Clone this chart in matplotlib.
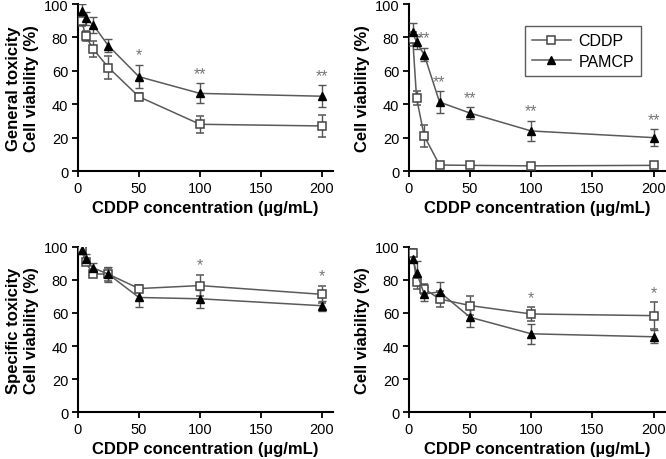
import matplotlib
matplotlib.use("Agg")
import matplotlib.pyplot as plt

plt.rcParams['font.family'] = ['Liberation Sans', 'DejaVu Sans']

conc = [3.125, 6.25, 12.5, 25, 50, 100, 200]

# general toxicity, panel A
gen_a_cddp = [90, 81, 73, 62, 44.5, 28, 27]
gen_a_cddp_err = [3, 3, 5, 7, 2, 5, 6.5]
gen_a_pamcp = [96, 91.5, 87.5, 75, 56.5, 46.5, 44.8]
gen_a_pamcp_err = [4, 4, 5, 4, 7, 6, 6.5]
gen_a_stars = ['', '', '', '', '*', '**', '**']

# general toxicity, panel B
gen_b_cddp = [79, 43.7, 21, 3.6, 3.4, 3.1, 3.4]
gen_b_cddp_err = [4, 4, 6.5, 1, 1, 1, 1]
gen_b_pamcp = [83, 77, 69.7, 41.3, 34.7, 24, 20]
gen_b_pamcp_err = [5.5, 4, 4, 6.5, 3.5, 6, 5]
gen_b_stars = ['', '', '**', '**', '**', '**', '**']

# specific toxicity, panel C
spe_a_cddp = [98.4, 90.8, 83.7, 83.5, 74.8, 76.6, 71.3]
spe_a_cddp_err = [1.5, 2, 2, 4, 2, 6.5, 5]
spe_a_pamcp = [98, 92.8, 87.3, 83.5, 69.4, 68.6, 64.4]
spe_a_pamcp_err = [2, 3, 3, 4.5, 6, 5.5, 3]
spe_a_stars = ['', '', '', '', '', '*', '*']

# specific toxicity, panel D
spe_b_cddp = [96.5, 78.5, 74.7, 68.5, 64.5, 59.4, 58.4]
spe_b_cddp_err = [2, 4, 3, 5, 6, 4, 8]
spe_b_pamcp = [92.6, 84.5, 71.5, 72.8, 57.4, 47.4, 45.6]
spe_b_pamcp_err = [2, 7, 4, 6, 6, 6, 4]
spe_b_stars = ['', '', '', '', '', '*', '*']

line_col = '#5a5a5a'


def draw(ax, cddp, cddp_err, pamcp, pamcp_err, stars, ylabel):
    c1 = ax.errorbar(conc, cddp, yerr=cddp_err, color=line_col, lw=1.1,
                     marker='s', ms=5.5, mfc='white', mec='#444444', mew=1.1,
                     ecolor='#555555', elinewidth=1, capsize=3, capthick=1,
                     label='CDDP', zorder=3)
    c2 = ax.errorbar(conc, pamcp, yerr=pamcp_err, color=line_col, lw=1.1,
                     marker='^', ms=5.5, mfc='black', mec='black',
                     ecolor='#555555', elinewidth=1, capsize=3, capthick=1,
                     label='PAMCP', zorder=3)
    for x, a, ae, b, be, s in zip(conc, cddp, cddp_err, pamcp, pamcp_err, stars):
        if s:
            top = max(a + ae, b + be)
            ax.text(x, top + 1.5, s, ha='center', va='bottom',
                    fontsize=11.5, color='#777777')
    ax.set_xlim(0, 209)
    ax.set_ylim(0, 100)
    ax.set_xticks([0, 50, 100, 150, 200])
    ax.set_yticks([0, 20, 40, 60, 80, 100])
    ax.spines['top'].set_visible(False)
    ax.spines['right'].set_visible(False)
    for sp in ('left', 'bottom'):
        ax.spines[sp].set_linewidth(1.5)
    ax.tick_params(direction='out', length=4, width=1.3, labelsize=10.5, pad=3)
    ax.set_xlabel('CDDP concentration (µg/mL)', fontsize=12, fontweight='bold',
                  labelpad=4)
    ax.set_ylabel(ylabel, fontsize=12, fontweight='bold', linespacing=1.25,
                  labelpad=3)
    return c1, c2


fig = plt.figure(figsize=(6.66, 4.60), dpi=100)
ax1 = fig.add_axes([0.117, 0.626, 0.383, 0.363])
ax2 = fig.add_axes([0.614, 0.626, 0.384, 0.363])
ax3 = fig.add_axes([0.117, 0.102, 0.383, 0.359])
ax4 = fig.add_axes([0.614, 0.102, 0.384, 0.359])

draw(ax1, gen_a_cddp, gen_a_cddp_err, gen_a_pamcp, gen_a_pamcp_err, gen_a_stars,
     'General toxicity\nCell viability (%)')
h1, h2 = draw(ax2, gen_b_cddp, gen_b_cddp_err, gen_b_pamcp, gen_b_pamcp_err,
              gen_b_stars, 'Cell viability (%)')
draw(ax3, spe_a_cddp, spe_a_cddp_err, spe_a_pamcp, spe_a_pamcp_err, spe_a_stars,
     'Specific toxicity\nCell viability (%)')
draw(ax4, spe_b_cddp, spe_b_cddp_err, spe_b_pamcp, spe_b_pamcp_err, spe_b_stars,
     'Cell viability (%)')

leg = ax2.legend([h1[0], h2[0]], ['CDDP', 'PAMCP'], loc='upper left',
                 bbox_to_anchor=(0.454, 0.868), borderaxespad=0, fontsize=11.5,
                 frameon=True, fancybox=False, edgecolor='#333333',
                 handlelength=2.4, borderpad=0.45, labelspacing=0.35,
                 handletextpad=0.5)
leg.get_frame().set_linewidth(1)

fig.savefig('out.png', dpi=100)
